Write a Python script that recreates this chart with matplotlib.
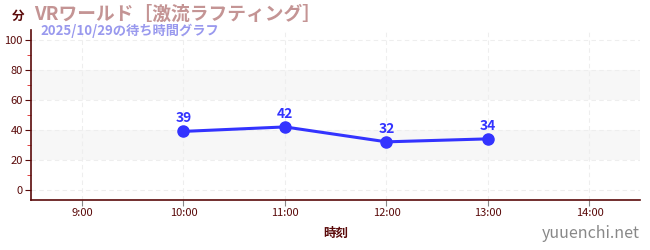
import matplotlib
matplotlib.use("Agg")
import matplotlib.pyplot as plt
from matplotlib.ticker import MultipleLocator

plt.rcParams['font.family'] = ['Noto Sans CJK JP', 'DejaVu Sans']

# data
hours = [10, 11, 12, 13]
waits = [39, 42, 32, 34]
tick_hours = [9, 10, 11, 12, 13, 14]
tick_labels = ["9:00", "10:00", "11:00", "12:00", "13:00", "14:00"]

dark = "#5a0a0a"
line_col = "#3333ff"

fig = plt.figure(figsize=(6.5, 2.5), dpi=100)
ax = fig.add_axes([0.048, 0.2, 0.937, 0.68])

ax.set_xlim(8.5, 14.5)
ax.set_ylim(-7, 107)

# alternating bands
for lo in (20, 60):
    ax.axhspan(lo, lo + 20, color="#f7f7f7", zorder=0, lw=0)

ax.grid(True, color="#eeeeee", ls=(0, (4, 3)), lw=0.8, zorder=1)

ax.plot(hours, waits, color=line_col, lw=2.2, marker="o", ms=8, zorder=3)
for h, w in zip(hours, waits):
    ax.annotate(str(w), (h, w), xytext=(0, 4.5), textcoords="offset points",
                ha="center", va="bottom", color=line_col, fontsize=10,
                fontweight="bold")

ax.set_xticks(tick_hours)
ax.set_xticklabels(tick_labels)
ax.set_yticks(range(0, 101, 20))
ax.yaxis.set_minor_locator(MultipleLocator(10))
ax.tick_params(axis="y", which="minor", length=3, color="#dd2222")
ax.tick_params(axis="both", which="major", length=4, color=dark,
               labelcolor=dark, labelsize=8, pad=2)
ax.tick_params(axis="x", colors="#888888", labelcolor=dark)

for s in ("top", "right"):
    ax.spines[s].set_visible(False)
for s in ("left", "bottom"):
    ax.spines[s].set_color(dark)
    ax.spines[s].set_linewidth(1.2)

ax.set_xlabel("時刻", color=dark, fontsize=9, fontweight="bold", labelpad=6)

fig.text(0.018, 0.935, "分", color=dark, fontsize=9, fontweight="bold",
         ha="left", va="center")
fig.text(0.052, 0.945, "VRワールド［激流ラフティング］", color="#c49494",
         fontsize=13.5, fontweight="bold", ha="left", va="center")
fig.text(0.063, 0.875, "2025/10/29の待ち時間グラフ", color="#9999ee",
         fontsize=9.5, fontweight="bold", ha="left", va="center")
fig.text(0.985, 0.065, "yuuenchi.net", color="#888888", fontsize=11.5,
         ha="right", va="center")

fig.savefig("out.png", dpi=100)
